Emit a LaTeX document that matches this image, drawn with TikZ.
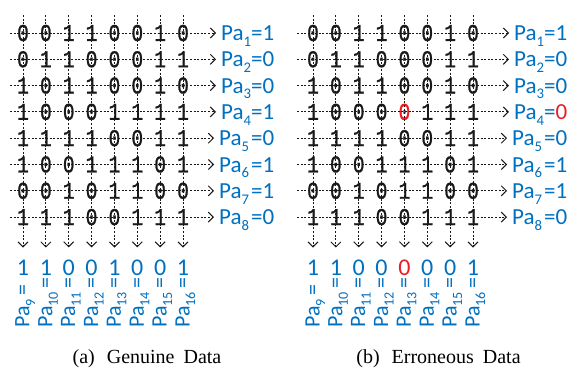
\documentclass[tikz,border=0pt]{standalone}
\usepackage{fontspec}
\usepackage{graphicx}
\setmainfont{Liberation Serif}
\newfontfamily\labfont{Carlito}
\newfontfamily\gridfont[FakeStretch=0.82,FakeBold=1]{Liberation Mono}
\usetikzlibrary{arrows.meta}
\definecolor{paBlue}{RGB}{0,112,192}
\definecolor{errRed}{RGB}{235,28,36}
\newcommand\lowidx[1]{\raisebox{-0.25em}{\scalebox{0.64}{#1}}}

\tikzset{
  bit/.style={font=\gridfont\fontsize{24}{24}\selectfont, inner sep=0pt, text=black!90},
  flow/.style={draw=black!90, line width=0.95pt, dash pattern=on 2pt off 1.6pt,
    -{Straight Barb[length=5pt,width=10pt,line width=1pt]}},
  parity/.style={font=\labfont\fontsize{23}{23}\selectfont, text=paBlue, inner sep=0pt, anchor=base west},
  colval/.style={font=\labfont\fontsize{24}{24}\selectfont, text=paBlue, inner sep=0pt},
  colname/.style={font=\labfont\fontsize{22}{22}\selectfont, text=paBlue, inner sep=0pt, rotate=90, anchor=base west},
  subcap/.style={font=\fontsize{20}{20}\selectfont, inner sep=0pt, anchor=base},
}

\begin{document}
\begin{tikzpicture}[x=1pt,y=-1pt]
\useasboundingbox (0,0) rectangle (574,369);

% ---------------- (a) genuine data ----------------
\foreach \row [count=\i] in {
  {0,0,1,1,0,0,1,0},{0,1,1,0,0,0,1,1},{1,0,1,1,0,0,1,0},{1,0,0,0,1,1,1,1},
  {1,1,1,1,0,0,1,1},{1,0,0,1,1,1,0,1},{0,0,1,0,1,1,0,0},{1,1,1,0,0,1,1,1}}{
  \foreach \b [count=\j] in \row {
    \node[bit] (A-\i-\j) at ({23+22.86*(\j-1)}, {33+26.3*(\i-1)}) {\b};
  }
}
\foreach \txt/\px [count=\i] in {
  Pa\lowidx{1}=1/221, Pa\lowidx{2}=0/221, Pa\lowidx{3}=0/221, Pa\lowidx{4}=1/221,
  Pa\lowidx{5}\hspace{2pt}=0/219, Pa\lowidx{6}\hspace{2pt}=1/219,
  Pa\lowidx{7}\hspace{2pt}=1/219, Pa\lowidx{8}\hspace{2pt}=0/219}{
  \coordinate (Ah\i) at (10, {33+26.3*(\i-1)});
  \node[parity] (Ap\i) at (\px, {33+26.3*(\i-1)+7.5}) {\txt};
  \draw[flow, shorten >=5pt] (Ah\i) -- (Ap\i.west |- Ah\i);
}
\foreach \v/\n [count=\j] in {1/9,1/10,0/11,0/12,1/13,0/14,0/15,1/16}{
  \coordinate (Av\j) at ({23+22.86*(\j-1)}, 15);
  \node[colval] (Aval\j) at ({23+22.86*(\j-1)}, 267.5) {\v};
  \draw[flow, shorten >=12pt] (Av\j) -- (Aval\j.north);
  \node[colname] (Aname\j) at ({23+22.86*(\j-1)+6.5}, 328) {Pa\lowidx{\n}\hspace{4pt}=};
}
\node[subcap] (capA) at (147, 363) {(a)\hspace{12pt}Genuine\hspace{9pt}Data};

% ---------------- (b) erroneous data ----------------
\foreach \row [count=\i] in {
  {0,0,1,1,0,0,1,0},{0,1,1,0,0,0,1,1},{1,0,1,1,0,0,1,0},{1,0,0,0,{\textcolor{errRed}{0}},1,1,1},
  {1,1,1,1,0,0,1,1},{1,0,0,1,1,1,0,1},{0,0,1,0,1,1,0,0},{1,1,1,0,0,1,1,1}}{
  \foreach \b [count=\j] in \row {
    \node[bit] (B-\i-\j) at ({313+22.86*(\j-1)}, {33+26.3*(\i-1)}) {\b};
  }
}
\foreach \txt/\px [count=\i] in {
  Pa\lowidx{1}=1/514, Pa\lowidx{2}=0/514, Pa\lowidx{3}=0/514,
  Pa\lowidx{4}=\textcolor{errRed}{0}/514,
  Pa\lowidx{5}\hspace{2pt}=0/512, Pa\lowidx{6}\hspace{2pt}=1/512,
  Pa\lowidx{7}\hspace{2pt}=1/512, Pa\lowidx{8}\hspace{2pt}=0/512}{
  \coordinate (Bh\i) at (297, {33+26.3*(\i-1)});
  \node[parity] (Bp\i) at (\px, {33+26.3*(\i-1)+7.5}) {\txt};
  \draw[flow, shorten >=5pt] (Bh\i) -- (Bp\i.west |- Bh\i);
}
\foreach \v/\n [count=\j] in {1/9,1/10,0/11,0/12,{\textcolor{errRed}{0}}/13,0/14,0/15,1/16}{
  \coordinate (Bv\j) at ({313+22.86*(\j-1)}, 15);
  \node[colval] (Bval\j) at ({313+22.86*(\j-1)}, 267.5) {\v};
  \draw[flow, shorten >=12pt] (Bv\j) -- (Bval\j.north);
  \node[colname] (Bname\j) at ({313+22.86*(\j-1)+6.5}, 328) {Pa\lowidx{\n}\hspace{4pt}=};
}
\node[subcap] (capB) at (438.5, 363) {(b)\hspace{12pt}Erroneous\hspace{9pt}Data};
\end{tikzpicture}
\end{document}
